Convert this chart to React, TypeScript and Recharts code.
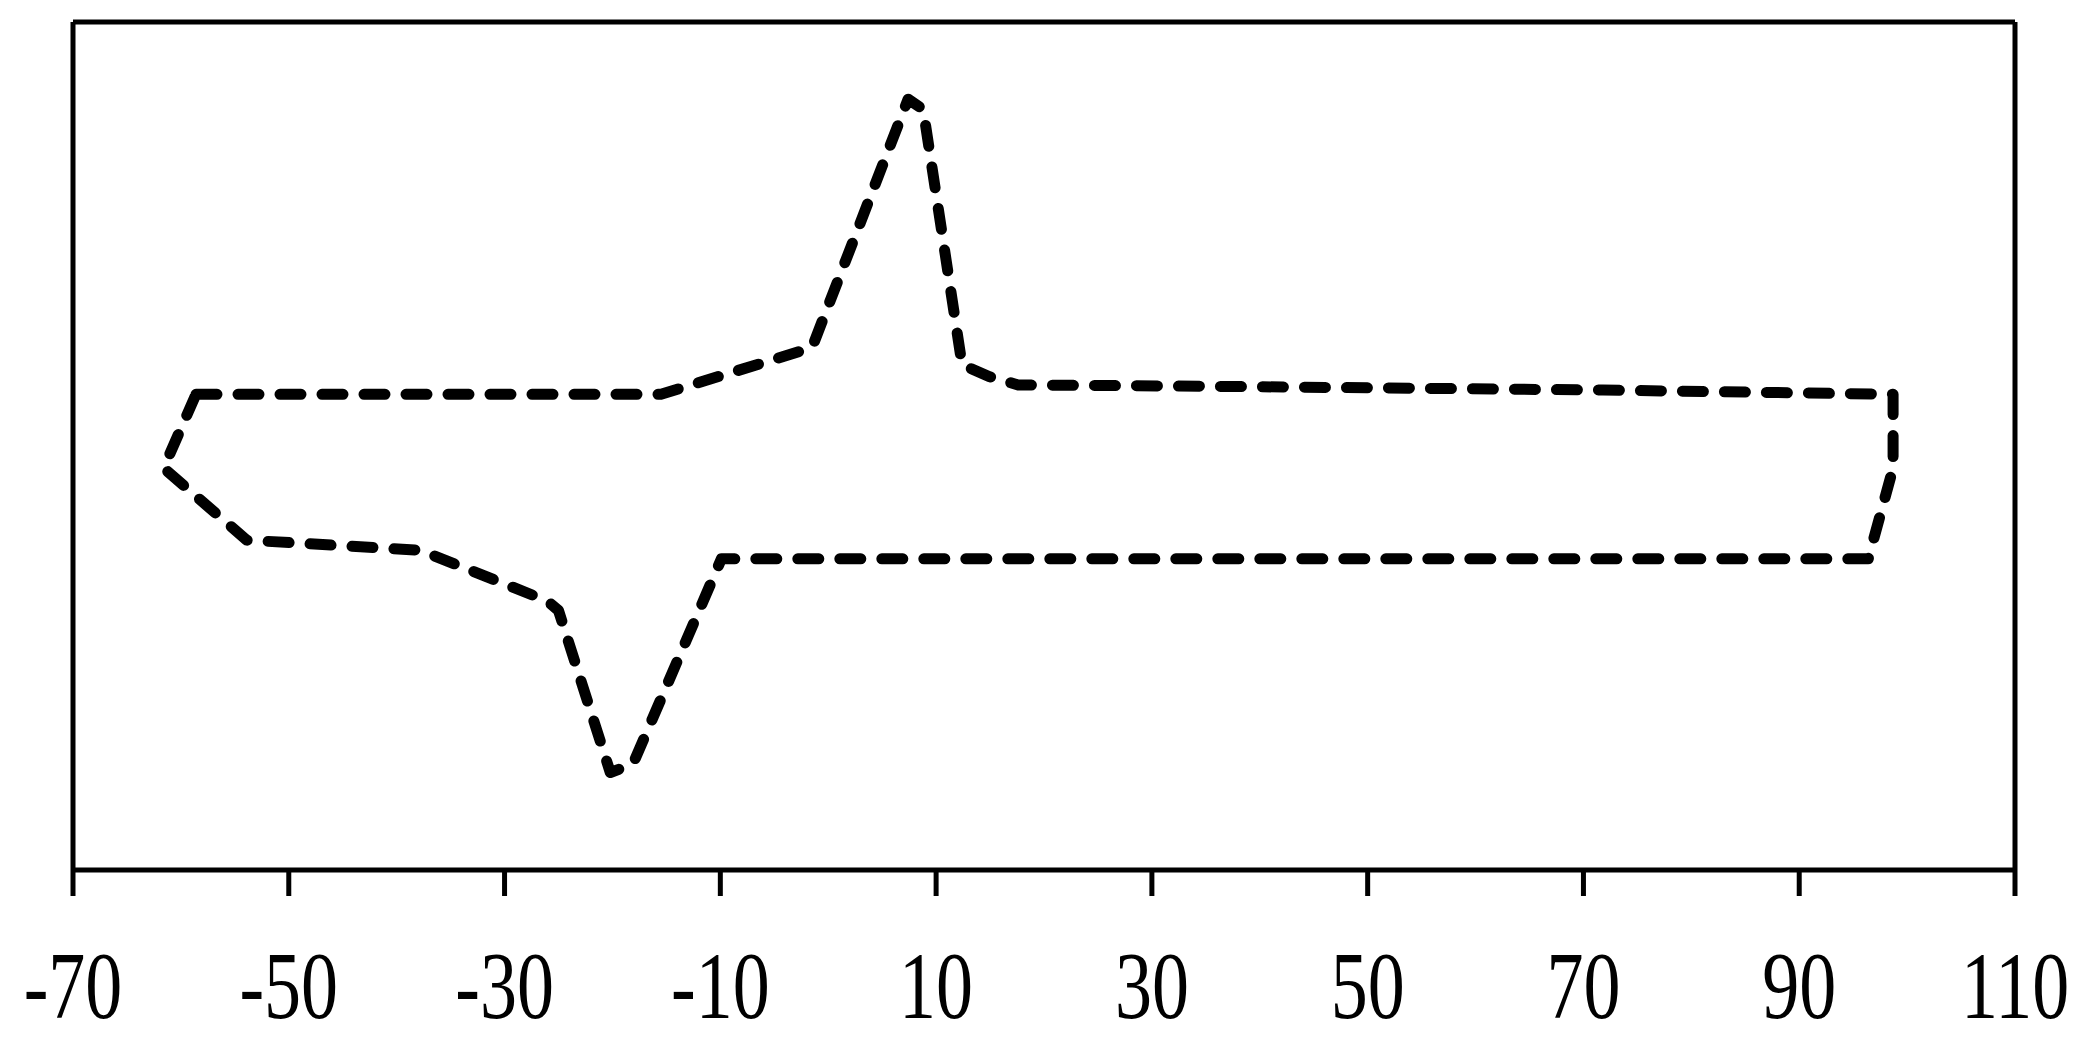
import React from "react";
import { LineChart, Line, XAxis, YAxis, ReferenceLine } from "recharts";

const potential = [
  -58.6, -15.5, -1.5, 7.4, 8.8, 12.4, 14.9, 17.6, 34.7, 71.8, 98.7,
  98.7, 96.4, -9.9, -18.1, -20.2, -25.0, -26.0, -37.8, -53.9, -61.6, -58.6,
];
const current = [
  6.1, 6.1, 11.6, 40.9, 39.7, 9.6, 8.2, 7.2, 7.05, 6.6, 6.1,
  -2.6, -13.3, -13.3, -37.5, -38.5, -19.4, -18.3, -12.3, -11.1, -2.6, 6.1,
];
const xTicks = [-70, -50, -30, -10, 10, 30, 50, 70, 90, 110];

const data = potential.map((x, i) => ({ x, y: current[i] }));

const FONT = "'Liberation Serif', 'Times New Roman', serif";

function Tick(props: any) {
  const { x, y, payload } = props;
  return (
    <g transform={`translate(${x},${y + 120})`}>
      <text
        textAnchor="middle"
        fontFamily={FONT}
        fontSize={74}
        fill="#000"
        transform="scale(1,1.28)"
      >
        {payload.value}
      </text>
    </g>
  );
}

export default function App() {
  return (
    <div style={{ position: "absolute", left: 0, top: 0, background: "#fff" }}>
      <LineChart
        width={2095}
        height={1042}
        data={data}
        margin={{ top: 22, right: 80, left: 73, bottom: 0 }}
      >
        <XAxis
          dataKey="x"
          type="number"
          domain={[-70, 110]}
          ticks={xTicks}
          interval={0}
          height={172}
          tickSize={26}
          axisLine={{ stroke: "#000", strokeWidth: 5 }}
          tickLine={{ stroke: "#000", strokeWidth: 5 }}
          tick={<Tick />}
          allowDataOverflow
        />
        <YAxis hide type="number" domain={[-50, 50]} allowDataOverflow />
        <ReferenceLine x={-70} stroke="#000" strokeWidth={5} />
        <ReferenceLine x={110} stroke="#000" strokeWidth={5} />
        <ReferenceLine y={50} stroke="#000" strokeWidth={5} />
        <Line
          dataKey="y"
          type="linear"
          stroke="#000"
          strokeWidth={11}
          strokeDasharray="21 21"
          strokeLinecap="round"
          strokeLinejoin="round"
          dot={false}
          activeDot={false}
          isAnimationActive={false}
        />
      </LineChart>
    </div>
  );
}
